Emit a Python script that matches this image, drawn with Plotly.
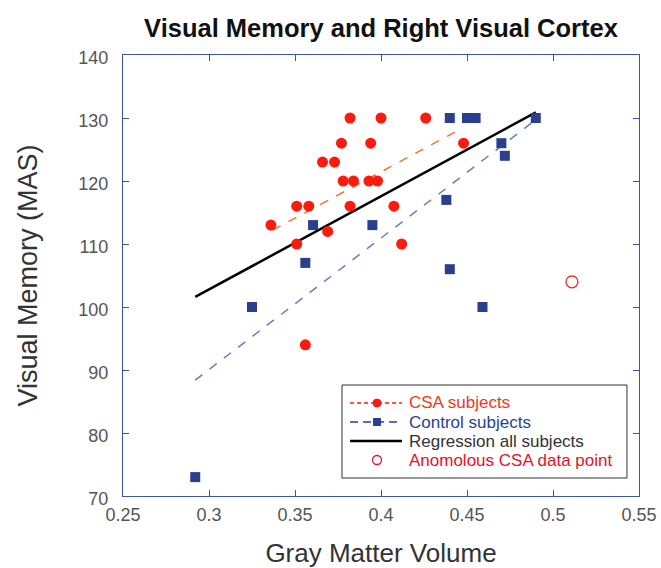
import plotly.graph_objects as go

# CSA subjects
csa_x = [0.382, 0.400, 0.426, 0.377, 0.394, 0.366, 0.373, 0.378, 0.384, 0.393,
         0.398, 0.448, 0.351, 0.358, 0.382, 0.4075, 0.336, 0.369, 0.351, 0.412, 0.356]
csa_y = [130, 130, 130, 126, 126, 123, 123, 120, 120, 120,
         120, 126, 116, 116, 116, 116, 113, 112, 110, 110, 94]

# Control subjects
ctl_x = [0.440, 0.450, 0.455, 0.490, 0.470, 0.472, 0.438, 0.3605, 0.395,
         0.356, 0.440, 0.325, 0.459, 0.292]
ctl_y = [130, 130, 130, 130, 126, 124, 117, 113, 113,
         107, 106, 100, 100, 73]

# Anomalous CSA point
anom_x = [0.511]
anom_y = [104]

# Regression line endpoints
csa_fit_x = [0.337, 0.446]
csa_fit_y = [112.2, 128.2]
ctl_fit_x = [0.292, 0.488]
ctl_fit_y = [88.4, 129.3]
all_fit_x = [0.292, 0.490]
all_fit_y = [101.6, 130.9]

x_ticks = [0.25, 0.3, 0.35, 0.4, 0.45, 0.5, 0.55]
x_tick_text = ["0.25", "0.3", "0.35", "0.4", "0.45", "0.5", "0.55"]
y_ticks = [70, 80, 90, 100, 110, 120, 130, 140]

legend_labels = ["CSA subjects", "Control subjects", "Regression all subjects",
                 "Anomolous CSA data point"]

RED = "#fe1a0c"
ORANGE = "#f3722f"
BLUE = "#2a3f8f"
LBLUE = "#5f80c4"
AXBLUE = "#3c52a3"
FONT = "Liberation Sans, Arial, sans-serif"

fig = go.Figure()

fig.add_trace(go.Scatter(x=csa_fit_x, y=csa_fit_y, mode="lines",
                         line=dict(color=ORANGE, width=1.5, dash="dash"),
                         showlegend=False, hoverinfo="skip"))
fig.add_trace(go.Scatter(x=ctl_fit_x, y=ctl_fit_y, mode="lines",
                         line=dict(color=LBLUE, width=1.5, dash="dash"),
                         showlegend=False, hoverinfo="skip"))
fig.add_trace(go.Scatter(x=all_fit_x, y=all_fit_y, mode="lines",
                         line=dict(color="black", width=2.5),
                         showlegend=False, hoverinfo="skip"))

fig.add_trace(go.Scatter(x=csa_x, y=csa_y, mode="markers", name=legend_labels[0],
                         marker=dict(symbol="circle", size=11, color=RED),
                         showlegend=False))
fig.add_trace(go.Scatter(x=ctl_x, y=ctl_y, mode="markers", name=legend_labels[1],
                         marker=dict(symbol="square", size=10, color=BLUE),
                         showlegend=False))
fig.add_trace(go.Scatter(x=anom_x, y=anom_y, mode="markers", name=legend_labels[3],
                         marker=dict(symbol="circle-open", size=12, color=RED,
                                     line=dict(width=1.2)),
                         showlegend=False))

# ---- hand-drawn legend box (paper coordinates) ----
LX0, LX1, LY0, LY1 = 0.4244, 0.9767, 0.0408, 0.2517
row_y = [0.2109, 0.1678, 0.1247, 0.0816]
sx0, sx1, smid = 0.440, 0.5407, 0.4922
text_x = 0.5504
label_colors = ["#f3351c", BLUE, "#333333", "#e8102a"]

shapes = [dict(type="rect", xref="paper", yref="paper", x0=LX0, x1=LX1, y0=LY0, y1=LY1,
               line=dict(color="#333", width=1), fillcolor="white", layer="above")]
shapes.append(dict(type="line", xref="paper", yref="paper", x0=sx0, x1=sx1,
                   y0=row_y[0], y1=row_y[0], line=dict(color=RED, width=1.5, dash="4px,3px"),
                   layer="above"))
shapes.append(dict(type="line", xref="paper", yref="paper", x0=sx0, x1=sx1,
                   y0=row_y[1], y1=row_y[1], line=dict(color=BLUE, width=1.5, dash="8px,5px"),
                   layer="above"))
shapes.append(dict(type="line", xref="paper", yref="paper", x0=sx0, x1=sx1,
                   y0=row_y[2], y1=row_y[2], line=dict(color="black", width=2.5),
                   layer="above"))
shapes.append(dict(type="circle", xref="paper", yref="paper", xsizemode="pixel",
                   ysizemode="pixel", xanchor=smid, yanchor=row_y[0],
                   x0=-4, x1=4, y0=-4, y1=4, fillcolor=RED, line=dict(color=RED, width=1),
                   layer="above"))
shapes.append(dict(type="rect", xref="paper", yref="paper", xsizemode="pixel",
                   ysizemode="pixel", xanchor=smid, yanchor=row_y[1],
                   x0=-3.5, x1=3.5, y0=-3.5, y1=3.5, fillcolor=BLUE,
                   line=dict(color=BLUE, width=1), layer="above"))
shapes.append(dict(type="circle", xref="paper", yref="paper", xsizemode="pixel",
                   ysizemode="pixel", xanchor=smid, yanchor=row_y[3],
                   x0=-4.5, x1=4.5, y0=-4.5, y1=4.5, fillcolor="rgba(0,0,0,0)",
                   line=dict(color="#e8102a", width=1.3), layer="above"))

annotations = []
for lbl, col, yy in zip(legend_labels, label_colors, row_y):
    annotations.append(dict(text=lbl, xref="paper", yref="paper", x=text_x, y=yy,
                            xanchor="left", yanchor="middle", showarrow=False,
                            font=dict(family=FONT, size=17, color=col)))

axis_common = dict(showgrid=False, zeroline=False, showline=True, linecolor=AXBLUE,
                   linewidth=1.2, mirror="ticks", ticks="inside", tickcolor=AXBLUE,
                   ticklen=6, tickwidth=1.2, automargin=False,
                   ticklabeloverflow="allow",
                   tickfont=dict(family=FONT, size=18, color="#555"))

fig.update_layout(
    width=661, height=568,
    margin=dict(l=123, r=22, t=55, b=72),
    paper_bgcolor="white", plot_bgcolor="white",
    showlegend=False,
    shapes=shapes, annotations=annotations,
    title=dict(text="<b>Visual Memory and Right Visual Cortex</b>",
               x=0.5, xref="paper", xanchor="center", y=1 - 28 / 568, yanchor="middle",
               font=dict(family=FONT, size=25.5, color="#111")),
    xaxis=dict(range=[0.25, 0.55], tickvals=x_ticks, ticktext=x_tick_text,
               ticklabelstandoff=2,
               title=dict(text="Gray Matter Volume", standoff=27,
                          font=dict(family=FONT, size=26, color="#333")),
               **axis_common),
    yaxis=dict(range=[70, 140], tickvals=y_ticks,
               ticklabelstandoff=10, ticklabelshift=3,
               title=dict(text="Visual Memory (MAS)", standoff=32,
                          font=dict(family=FONT, size=27, color="#333")),
               **axis_common),
)

fig.write_html("out.html", config={"displayModeBar": False},
               post_script="document.body.style.margin='0';document.body.style.overflow='hidden';")
